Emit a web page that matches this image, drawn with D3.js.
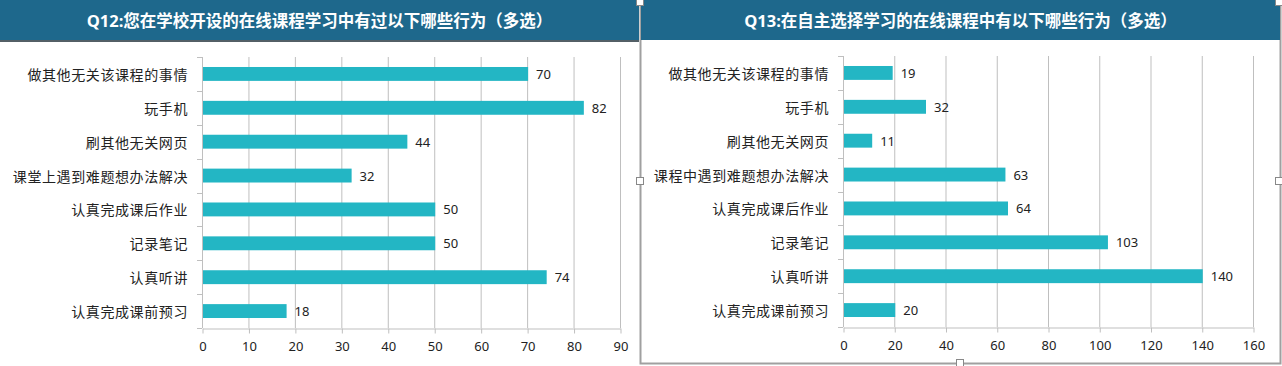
<!DOCTYPE html>
<html>
<head>
<meta charset="utf-8">
<script src="https://cdn.jsdelivr.net/npm/d3@7"></script>
<style>
  body { margin: 0; background: #fff; }
  svg { display: block; font-family: "Noto Sans CJK SC", "Noto Sans", sans-serif; }
</style>
</head>
<body>
<svg width="1282" height="366"></svg>
<script>
// chart data
const titles = ['Q12:您在学校开设的在线课程学习中有过以下哪些行为（多选）', 'Q13:在自主选择学习的在线课程中有以下哪些行为（多选）'];
const cats12 = ['做其他无关该课程的事情', '玩手机', '刷其他无关网页', '课堂上遇到难题想办法解决', '认真完成课后作业', '记录笔记', '认真听讲', '认真完成课前预习'];
const vals12 = [70, 82, 44, 32, 50, 50, 74, 18];
const cats13 = ['做其他无关该课程的事情', '玩手机', '刷其他无关网页', '课程中遇到难题想办法解决', '认真完成课后作业', '记录笔记', '认真听讲', '认真完成课前预习'];
const vals13 = [19, 32, 11, 63, 64, 103, 140, 20];
const ticks12 = [0, 10, 20, 30, 40, 50, 60, 70, 80, 90];
const ticks13 = [0, 20, 40, 60, 80, 100, 120, 140, 160];

const svg = d3.select('svg');
const barColor = '#23b6c4';
const headColor = '#1e688c';
const gridColor = '#bfbfbf';

// panel border of the right chart (it's the selected one in excel)
svg.append('rect')
  .attr('x', 640.5).attr('y', 0.5).attr('width', 640).attr('height', 363)
  .attr('fill', 'none').attr('stroke', '#a0a0a0').attr('stroke-width', 2);

function drawChart(opts) {
  const { x0, x1, hx, hw, title, cats, vals, ticks, max, top, bottom } = opts;

  // header band
  svg.append('rect').attr('x', hx).attr('y', 0).attr('width', hw).attr('height', 40).attr('fill', headColor);
  if (opts.headLine) {
    svg.append('line').attr('x1', hx).attr('x2', hx + hw).attr('y1', 41).attr('y2', 41)
      .attr('stroke', '#1a2a33').attr('stroke-width', 1.5);
  }
  svg.append('text')
    .attr('x', hx + hw / 2).attr('y', 20)
    .attr('text-anchor', 'middle').attr('dominant-baseline', 'central')
    .attr('fill', '#fff').attr('font-weight', 'bold').attr('font-size', 16.5)
    .attr('font-family', '"Open Sans", "Noto Sans CJK SC", sans-serif')
    .text(title);

  const x = d3.scaleLinear().domain([0, max]).range([x0, x1]);
  const y = d3.scaleBand().domain(cats).range([top, bottom]).paddingInner(0.59).paddingOuter(0.295);

  const g = svg.append('g');

  // gridlines
  g.selectAll('.grid').data(ticks.slice(1)).enter().append('line')
    .attr('x1', d => x(d) + 0.5).attr('x2', d => x(d) + 0.5)
    .attr('y1', top).attr('y2', bottom)
    .attr('stroke', gridColor).attr('stroke-width', 1);

  // bottom axis
  const xAxis = d3.axisBottom(x).tickValues(ticks).tickSize(5).tickSizeOuter(0).tickPadding(8);
  const ax = g.append('g').attr('transform', `translate(0.5,${bottom + 0.5})`).call(xAxis);
  ax.select('.domain').attr('stroke', gridColor);
  ax.selectAll('.tick line').attr('stroke', gridColor);
  ax.selectAll('text').attr('font-size', 13).attr('fill', '#222')
    .attr('font-family', '"Noto Sans", "DejaVu Sans", sans-serif');

  // left axis line with category boundary ticks
  g.append('line').attr('x1', x0 + 0.5).attr('x2', x0 + 0.5).attr('y1', top).attr('y2', bottom)
    .attr('stroke', gridColor);
  const bounds = d3.range(cats.length + 1).map(i => top + i * (bottom - top) / cats.length);
  g.selectAll('.ytick').data(bounds).enter().append('line')
    .attr('x1', x0 - 5).attr('x2', x0)
    .attr('y1', d => Math.round(d) + 0.5).attr('y2', d => Math.round(d) + 0.5)
    .attr('stroke', gridColor);

  // bars
  g.selectAll('.bar').data(vals).enter().append('rect')
    .attr('x', x0 + 1)
    .attr('y', (d, i) => y(cats[i]))
    .attr('width', d => x(d) - x0)
    .attr('height', y.bandwidth())
    .attr('fill', barColor);

  // value labels
  g.selectAll('.val').data(vals).enter().append('text')
    .attr('x', d => x(d) + 9)
    .attr('y', (d, i) => y(cats[i]) + y.bandwidth() / 2)
    .attr('dominant-baseline', 'central')
    .attr('font-size', 13).attr('fill', '#222')
    .attr('font-family', '"Noto Sans", "DejaVu Sans", sans-serif')
    .text(d => d);

  // category labels
  g.selectAll('.cat').data(cats).enter().append('text')
    .attr('x', x0 - 14)
    .attr('y', d => y(d) + y.bandwidth() / 2)
    .attr('text-anchor', 'end').attr('dominant-baseline', 'central')
    .attr('font-size', 14).attr('letter-spacing', 0.6).attr('fill', '#222')
    .text(d => d);
}

drawChart({ x0: 202, x1: 620, hx: 0, hw: 639, title: titles[0], cats: cats12, vals: vals12,
  ticks: ticks12, max: 90, top: 57, bottom: 328, headLine: true });
drawChart({ x0: 843, x1: 1253, hx: 641, hw: 639, title: titles[1], cats: cats13, vals: vals13,
  ticks: ticks13, max: 160, top: 56, bottom: 327, headLine: false });

// excel selection handles
const handles = [[640, 2], [640, 181], [1279, 181], [960, 363], [1279, 2]];
svg.selectAll('.handle').data(handles).enter().append('rect')
  .attr('x', d => d[0] - 3.5).attr('y', d => d[1] - 3.5).attr('width', 7).attr('height', 7)
  .attr('fill', '#fff').attr('stroke', '#888');
</script>
</body>
</html>
